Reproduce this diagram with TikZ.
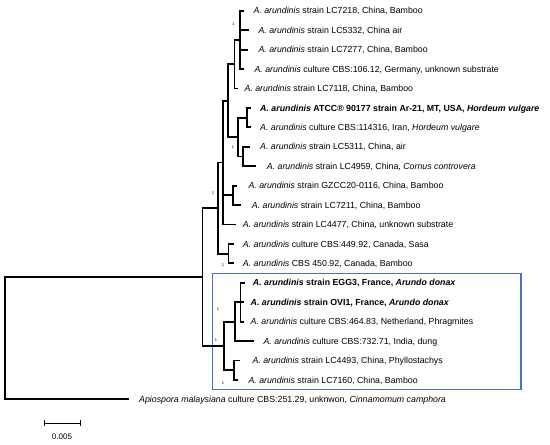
\documentclass[tikz,border=0pt]{standalone}
\usepackage{fontspec}
\setmainfont{Liberation Sans}
\definecolor{boxblue}{RGB}{68,114,196}
\newcommand\Aar{\textit{A. arundinis}}
\begin{document}
\begin{tikzpicture}[x=1pt,y=-1pt,
  br/.style={line width=1.8pt, line join=miter},
  leaf/.style={anchor=base west, inner sep=0pt, font=\fontsize{8.8}{10}\selectfont},
  supp/.style={inner sep=0pt, font=\fontsize{4}{4}\selectfont}]
\useasboundingbox (0,0) rectangle (550,445);

% highlight box
\node (box) [draw=boxblue, line width=1.6pt, anchor=north west, minimum width=308.5pt, minimum height=116pt, inner sep=0pt] at (211.5,272.5) {};

% internal nodes
\coordinate (root) at (5,338.1);
\coordinate (R1) at (202.5,277);
\coordinate (E) at (218,208);
\coordinate (F) at (223,162.5);
\coordinate (C) at (228.3,100.6);
\coordinate (B) at (234.5,64.1);
\coordinate (P1) at (240,39.85);
\coordinate (D) at (238.3,137);
\coordinate (Q67) at (246.7,117.6);
\coordinate (Q89) at (243,156.4);
\coordinate (Q1011) at (233,195.3);
\coordinate (Q1314) at (228.5,253.6);
\coordinate (L0) at (224.3,345.9);
\coordinate (S1) at (235,321.6);
\coordinate (P) at (240.5,302.2);
\coordinate (S2) at (234.3,370.2);

% tips
\coordinate (t1) at (244.3,10.7);
\coordinate (t2) at (249,30.1);
\coordinate (t3) at (248,49.6);
\coordinate (t4) at (244.3,69.0);
\coordinate (t5) at (238.3,88.4);
\coordinate (t6) at (250.5,107.9);
\coordinate (t7) at (250.5,127.3);
\coordinate (t8) at (250,146.7);
\coordinate (t9) at (256,166.1);
\coordinate (t10) at (237,185.6);
\coordinate (t11) at (241,205.0);
\coordinate (t12) at (236,224.4);
\coordinate (t13) at (233.5,243.9);
\coordinate (t14) at (233.5,263.3);
\coordinate (t15) at (245,282.7);
\coordinate (t16) at (244,302.2);
\coordinate (t17) at (243.5,321.6);
\coordinate (t18) at (253.5,341.0);
\coordinate (t19) at (240,360.4);
\coordinate (t20) at (238,379.9);
\coordinate (t21) at (129,399.3);

% branches
\foreach \a/\b in {root/R1, root/t21, R1/E, R1/L0, E/F, E/Q1314,
  F/C, F/Q1011, F/t12, C/B, C/D, B/P1, B/t5, P1/t1, P1/t2, P1/t3, P1/t4,
  D/Q67, D/Q89, Q67/t6, Q67/t7, Q89/t8, Q89/t9, Q1011/t10, Q1011/t11,
  Q1314/t13, Q1314/t14, L0/S1, L0/S2, S1/P, S1/t18, P/t15, P/t16, P/t17,
  S2/t19, S2/t20}
  \draw[br] (\a) |- (\b);

% leaf labels (baseline = line y + 3.2)
\node (l1) [leaf] at (253.3,13.9) {\Aar{} strain LC7218, China, Bamboo};
\node (l2) [leaf] at (258.3,33.3) {\Aar{} strain LC5332, China air};
\node (l3) [leaf] at (258.3,52.8) {\Aar{} strain LC7277, China, Bamboo};
\node (l4) [leaf] at (254.3,72.2) {\Aar{} culture CBS:106.12, Germany, unknown substrate};
\node (l5) [leaf] at (244.3,91.6) {\Aar{} strain LC7118, China, Bamboo};
\node (l6) [leaf] at (260,111.1) {\bfseries\textit{A. arundinis} ATCC® 90177 strain Ar-21, MT, USA, \textit{Hordeum vulgare}};
\node (l7) [leaf] at (260,130.5) {\Aar{} culture CBS:114316, Iran, \textit{Hordeum vulgare}};
\node (l8) [leaf] at (260,149.9) {\Aar{} strain LC5311, China, air};
\node (l9) [leaf] at (266.7,169.3) {\Aar{} strain LC4959, China, \textit{Cornus controvera}};
\node (l10) [leaf] at (248.3,188.8) {\Aar{} strain GZCC20-0116, China, Bamboo};
\node (l11) [leaf] at (251.7,208.2) {\Aar{} strain LC7211, China, Bamboo};
\node (l12) [leaf] at (242.7,227.6) {\Aar{} strain LC4477, China, unknown substrate};
\node (l13) [leaf] at (242.7,247.1) {\Aar{} culture CBS:449.92, Canada, Sasa};
\node (l14) [leaf] at (242.7,266.5) {\Aar{} CBS 450.92, Canada, Bamboo};
\node (l15) [leaf] at (252.7,285.9) {\bfseries\textit{A. arundinis} strain EGG3, France, \textit{Arundo donax}};
\node (l16) [leaf] at (250.5,305.4) {\bfseries\textit{A. arundinis} strain OVI1, France, \textit{Arundo donax}};
\node (l17) [leaf] at (250.5,324.8) {\Aar{} culture CBS:464.83, Netherland, Phragmites};
\node (l18) [leaf] at (263.3,344.2) {\Aar{} culture CBS:732.71, India, dung};
\node (l19) [leaf] at (252.3,363.6) {\Aar{} strain LC4493, China, Phyllostachys};
\node (l20) [leaf] at (248.3,383.1) {\Aar{} strain LC7160, China, Bamboo};
\node (l21) [leaf] at (139,402.5) {\textit{Apiospora malaysiana} culture CBS:251.29, unknwon, \textit{Cinnamomum camphora}};

% support values
\node (s1) [supp] at (233.5,24) {1};
\node (s2) [supp] at (233,147) {1};
\node (s3) [supp] at (213,193.5) {1};
\node (s4) [supp] at (223,265) {1};
\node (s5) [supp] at (218,309) {1};
\node (s6) [supp] at (216,340.5) {1};
\node (s7) [supp] at (223,383) {1};

% scale bar
\coordinate (sb1) at (44,423);
\coordinate (sb2) at (80,423);
\draw[line width=0.8pt] (sb1) -- (sb2);
\draw[line width=0.8pt] ([yshift=3pt]sb1) -- ([yshift=-3pt]sb1);
\draw[line width=0.8pt] ([yshift=3pt]sb2) -- ([yshift=-3pt]sb2);
\node (sbl) [inner sep=0pt, font=\fontsize{8}{9}\selectfont] at (62,437) {0.005};
\end{tikzpicture}
\end{document}
